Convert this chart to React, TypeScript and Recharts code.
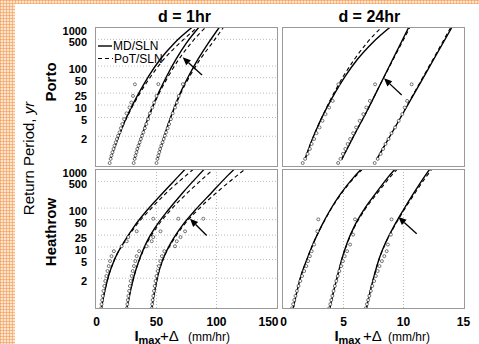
import { ComposedChart, Line, Scatter, XAxis, YAxis, CartesianGrid, ReferenceLine } from "recharts";

const FONT = '"Liberation Sans", Arial, Helvetica, sans-serif';

type Pt = [number, number];

// y axis: return period T on a Gumbel reduced-variate scale
const T_TICKS = [2, 5, 10, 20, 50, 100, 500, 1000];
const T_LABELS = ["2", "5", "10", "25", "50", "100", "500", "1000"];
const Y_DOMAIN: [number, number] = [-1.49, 6.96];

const X_TICKS_1H = [0, 50, 100, 150];
const X_GRID_1H = [50, 100];
const X_DOMAIN_1H: [number, number] = [-1.25, 151.25];
const X_TICKS_24H = [0, 5, 10, 15];
const X_GRID_24H = [5, 10];
const X_DOMAIN_24H: [number, number] = [-0.125, 15.125];

// [x (mm/hr), reduced variate]
const PORTO_1H_MD: Pt[][] = [
  [[11.3, -1.07], [16.7, 0], [22.0, 1], [28.3, 2], [35.5, 3], [43.5, 4], [53, 5], [65, 6], [80, 6.96]],
  [[31.3, -1.07], [36, 0], [40.6, 1], [45.8, 2], [51.8, 3], [58.6, 4], [66.2, 5], [75, 6], [85.5, 6.96]],
  [[50.4, -1.07], [55, 0], [59.3, 1], [64.3, 2], [70, 3], [76.8, 4], [84.5, 5], [93.3, 6], [102.5, 6.96]],
];
const PORTO_1H_POT: Pt[][] = [
  [[11.3, -1.07], [16.7, 0], [22.2, 1], [28.8, 2], [36.5, 3], [45.5, 4], [56, 5], [69.5, 6], [84.5, 6.96]],
  [[31.3, -1.07], [36, 0], [40.7, 1], [46.2, 2], [52.5, 3], [60, 4], [68.5, 5], [79, 6], [91, 6.96]],
  [[50.4, -1.07], [55, 0], [59.4, 1], [64.6, 2], [70.5, 3], [77.8, 4], [86.3, 5], [96.5, 6], [106, 6.96]],
];
const PORTO_1H_OBS: Pt[][] = [
  [[11, -1.25], [11.8, -1.0], [12.5, -0.8], [13.3, -0.6], [14.2, -0.4], [15, -0.2], [16, 0], [17, 0.2], [18, 0.4], [19.2, 0.6], [20.3, 0.85], [21.5, 1.1], [23, 1.4], [25, 1.75], [27.5, 2.1], [29, 2.4], [30.4, 2.8], [32, 3.5]],
  [[31, -1.25], [31.8, -1.0], [32.5, -0.8], [33.3, -0.6], [34, -0.4], [35, -0.2], [36, 0], [37, 0.2], [38, 0.4], [39, 0.6], [40.3, 0.85], [41.5, 1.1], [43, 1.4], [44.5, 1.75], [46.5, 2.1], [48, 2.4], [50, 2.8], [51.5, 3.51]],
  [[50, -1.25], [50.8, -1.0], [51.5, -0.8], [52.3, -0.6], [53, -0.4], [54, -0.2], [55, 0], [56, 0.2], [57, 0.4], [58, 0.6], [59.3, 0.85], [60.5, 1.1], [62, 1.4], [63.5, 1.75], [65.5, 2.1], [67, 2.4], [68.5, 2.8], [72, 3.51]],
];

const PORTO_24H_MD: Pt[][] = [
  [[1.79, -1.03], [2.3, 0], [2.88, 1], [3.55, 2], [4.3, 3], [5.15, 4], [6.15, 5], [7.4, 6], [8.9, 6.96]],
  [[4.85, -1.03], [5.9, 0.45], [7.0, 1.95], [8.1, 3.55], [9.2, 5.15], [10.45, 6.96]],
  [[7.77, -1.03], [9.37, 1], [10.94, 3], [12.51, 5], [14.05, 6.96]],
];
const PORTO_24H_POT: Pt[][] = [
  [[1.79, -1.03], [2.3, 0], [2.88, 1], [3.52, 2], [4.22, 3], [5.0, 4], [5.9, 5], [6.95, 6], [8.2, 6.96]],
  [[4.85, -1.03], [5.9, 0.45], [7.0, 1.95], [8.1, 3.55], [9.25, 5.15], [10.55, 6.96]],
  [[7.77, -1.03], [9.35, 1], [10.9, 3], [12.45, 5], [13.95, 6.96]],
];
const PORTO_24H_OBS: Pt[][] = [
  [[1.6, -1.25], [1.8, -1.0], [2.0, -0.7], [2.2, -0.4], [2.35, -0.1], [2.55, 0.2], [2.75, 0.55], [3.0, 0.9], [3.25, 1.3], [3.5, 1.7], [3.8, 2.1], [4.1, 2.5], [4.57, 3.5]],
  [[4.55, -1.25], [4.75, -1.0], [4.95, -0.7], [5.15, -0.4], [5.35, -0.1], [5.55, 0.2], [5.8, 0.55], [6.05, 0.9], [6.35, 1.3], [6.65, 1.7], [6.9, 2.1], [7.2, 2.5], [7.63, 3.5]],
  [[7.6, -1.25], [7.85, -1.0], [8.1, -0.7], [8.3, -0.4], [8.5, -0.1], [8.75, 0.2], [9.0, 0.55], [9.3, 0.9], [9.6, 1.3], [9.9, 1.7], [10.1, 2.1], [10.3, 2.5], [10.68, 3.5]],
];

const HEATHROW_1H_MD: Pt[][] = [
  [[4.0, -1.48], [6.6, -0.5], [10.0, 0.5], [15.0, 1.5], [22.5, 2.5], [31.5, 3.5], [42.5, 4.5], [55, 5.5], [68, 6.5], [74, 6.96]],
  [[25.2, -1.48], [28.0, -0.5], [31.3, 0.5], [35.7, 1.5], [41.5, 2.5], [49.6, 3.5], [60.0, 4.5], [71.5, 5.5], [84, 6.5], [90, 6.96]],
  [[46, -1.48], [48.3, -0.5], [51, 0.5], [55.3, 1.5], [62, 2.5], [71, 3.5], [82.5, 4.5], [95.5, 5.5], [108.5, 6.5], [115, 6.96]],
];
const HEATHROW_1H_POT: Pt[][] = [
  [[4.0, -1.48], [6.6, -0.5], [10.0, 0.5], [15.1, 1.5], [22.8, 2.5], [32.5, 3.5], [44.5, 4.5], [58, 5.5], [73.5, 6.5], [81, 6.96]],
  [[25.2, -1.48], [28.0, -0.5], [31.3, 0.5], [35.9, 1.5], [42.2, 2.5], [50.8, 3.5], [62, 4.5], [75.5, 5.5], [90.5, 6.5], [97.5, 6.96]],
  [[46, -1.48], [48.3, -0.5], [51, 0.5], [55.5, 1.5], [62.6, 2.5], [72, 3.5], [84.5, 4.5], [99.5, 5.5], [116, 6.5], [124, 6.96]],
];
const HEATHROW_1H_OBS: Pt[][] = [
  [[3.8, -1.45], [4.2, -1.2], [4.7, -0.95], [5.2, -0.7], [5.8, -0.4], [6.5, -0.1], [7.3, 0.2], [8.2, 0.5], [9.2, 0.8], [10.2, 1.1], [11.3, 1.4], [12.5, 1.7], [14.5, 2.0], [21, 2.3], [25.2, 2.6], [26.5, 2.85], [33.5, 3.2], [47.3, 3.96]],
  [[25.3, -1.45], [25.7, -1.2], [26.1, -0.95], [26.6, -0.7], [27.2, -0.4], [27.8, -0.1], [28.5, 0.2], [29.3, 0.5], [30.2, 0.8], [31.2, 1.1], [32.3, 1.4], [33.5, 1.7], [35.5, 2.0], [41.8, 2.3], [46, 2.6], [47.3, 2.85], [53.3, 3.2], [68.2, 3.96]],
  [[46, -1.45], [46.4, -1.2], [46.8, -0.95], [47.3, -0.7], [47.9, -0.4], [48.5, -0.1], [49.2, 0.2], [50, 0.5], [51, 0.8], [52, 1.1], [53.2, 1.4], [54.5, 1.7], [56.5, 2.0], [65.4, 2.3], [66.9, 2.6], [70, 2.85], [73.8, 3.2], [89, 3.96]],
];

const HEATHROW_24H_MD: Pt[][] = [
  [[0.8, -1.48], [1.1, -0.5], [1.45, 0.5], [1.95, 1.5], [2.5, 2.5], [3.15, 3.5], [3.9, 4.5], [4.8, 5.5], [5.9, 6.5], [6.5, 6.96]],
  [[3.85, -1.48], [4.15, -0.5], [4.5, 0.5], [4.85, 1.5], [5.3, 2.5], [5.9, 3.5], [6.7, 4.5], [7.7, 5.5], [8.75, 6.5], [9.3, 6.96]],
  [[6.9, -1.48], [7.2, -0.5], [7.55, 0.5], [7.95, 1.5], [8.5, 2.5], [9.2, 3.5], [10.0, 4.5], [10.85, 5.5], [11.75, 6.5], [12.2, 6.96]],
];
const HEATHROW_24H_POT: Pt[][] = [
  [[0.8, -1.48], [1.1, -0.5], [1.45, 0.5], [1.95, 1.5], [2.5, 2.5], [3.17, 3.5], [3.93, 4.5], [4.85, 5.5], [5.98, 6.5], [6.6, 6.96]],
  [[3.85, -1.48], [4.15, -0.5], [4.5, 0.5], [4.86, 1.5], [5.33, 2.5], [5.95, 3.5], [6.78, 4.5], [7.82, 5.5], [8.92, 6.5], [9.5, 6.96]],
  [[6.9, -1.48], [7.2, -0.5], [7.55, 0.5], [7.96, 1.5], [8.52, 2.5], [9.24, 3.5], [10.06, 4.5], [10.95, 5.5], [11.9, 6.5], [12.38, 6.96]],
];
const HEATHROW_24H_OBS: Pt[][] = [
  [[0.7, -1.45], [0.8, -1.2], [0.9, -0.95], [1.0, -0.7], [1.12, -0.4], [1.25, -0.1], [1.4, 0.2], [1.55, 0.5], [1.72, 0.8], [1.9, 1.1], [2.05, 1.4], [2.2, 1.7], [2.35, 2.0], [2.55, 2.4], [2.82, 3.2], [2.9, 3.92]],
  [[3.8, -1.45], [3.9, -1.2], [3.98, -0.95], [4.07, -0.7], [4.17, -0.4], [4.28, -0.1], [4.4, 0.2], [4.52, 0.5], [4.65, 0.8], [4.8, 1.1], [4.95, 1.4], [5.1, 1.7], [5.3, 2.0], [5.55, 2.4], [5.8, 3.0], [5.96, 3.92]],
  [[6.85, -1.45], [6.95, -1.2], [7.05, -0.95], [7.15, -0.7], [7.28, -0.4], [7.4, -0.1], [7.55, 0.2], [7.7, 0.5], [7.85, 0.8], [8.0, 1.1], [8.2, 1.4], [8.4, 1.7], [8.6, 2.0], [8.7, 2.4], [8.95, 3.0], [9.0, 3.92]],
];

// arrows: [tail, tip]
const ARROW_PORTO_1H: Pt[] = [[87.9, 4.06], [71.8, 5.13]];
const ARROW_PORTO_24H: Pt[] = [[9.85, 2.85], [8.375, 3.86]];
const ARROW_HEATHROW_1H: Pt[] = [[91.8, 2.95], [77.9, 3.95]];
const ARROW_HEATHROW_24H: Pt[] = [[11.1, 3.05], [9.57, 4.06]];

const gumbel = (T: number) => -Math.log(-Math.log(1 - 1 / T));
const rows = (pts: Pt[]) => pts.map(([x, y]) => ({ x, y }));

const Y_TICK_VALUES = T_TICKS.map(gumbel);

function yLabel(v: number) {
  const i = Y_TICK_VALUES.findIndex((t) => Math.abs(t - v) < 1e-6);
  return i >= 0 ? T_LABELS[i] : "";
}

function YTick(props: any) {
  const { x, y, payload } = props;
  return (
    <text x={x} y={y + 3} dy="0.355em" textAnchor="end" fontFamily={FONT} fontSize={11} fontWeight="bold" fill="#000">
      {yLabel(payload.value)}
    </text>
  );
}

function XTick(props: any) {
  const { x, y, payload } = props;
  // squeeze the neighbouring "150" and "0" apart like the original
  let anchor: "middle" | "end" | "start" = "middle";
  let dx = 0;
  if (payload.value === 150) { anchor = "end"; dx = 2; }
  if (payload.value === 0 && x > 200) { dx = 3; }
  return (
    <text x={x + dx} y={y} dy="0.71em" textAnchor={anchor} fontFamily={FONT} fontSize={12} fontWeight="bold" fill="#000">
      {payload.value}
    </text>
  );
}

function Arrow(props: any) {
  const { x1, y1, x2, y2 } = props;
  const ang = Math.atan2(y2 - y1, x2 - x1);
  const len = 8;
  const w = 3.5;
  const bx = x2 - len * Math.cos(ang);
  const by = y2 - len * Math.sin(ang);
  const px = -Math.sin(ang) * w;
  const py = Math.cos(ang) * w;
  return (
    <g>
      <line x1={x1} y1={y1} x2={bx} y2={by} stroke="#000" strokeWidth={1.3} />
      <polygon points={`${x2},${y2} ${bx + px},${by + py} ${bx - px},${by - py}`} fill="#000" />
    </g>
  );
}

const Dot = (p: any) => <circle cx={p.cx} cy={p.cy} r={1.5} fill="#fff" stroke="#222" strokeWidth={0.6} />;

type PanelProps = {
  left: number;
  top: number;
  leftCol: boolean;
  bottomRow: boolean;
  md: Pt[][];
  pot: Pt[][];
  obs: Pt[][];
  arrow: Pt[];
  hourly: boolean;
};

const PAD_TOP = 8;

function Panel({ left, top, leftCol, bottomRow, md, pot, obs, arrow, hourly }: PanelProps) {
  const yW = leftCol ? 40 : 10;
  const right = leftCol ? 12 : 8;
  const xH = bottomRow ? 20 : 0;
  return (
    <div style={{ position: "absolute", left, top: top - PAD_TOP }}>
      <ComposedChart width={yW + 183 + right} height={PAD_TOP + 140 + xH} margin={{ top: PAD_TOP, right, bottom: 0, left: 0 }}>
        <CartesianGrid
          stroke="#bbb"
          strokeDasharray="1 2"
          horizontalValues={Y_TICK_VALUES.slice(0, -1)}
          verticalValues={hourly ? X_GRID_1H : X_GRID_24H}
        />
        <XAxis
          dataKey="x"
          type="number"
          domain={hourly ? X_DOMAIN_1H : X_DOMAIN_24H}
          ticks={hourly ? X_TICKS_1H : X_TICKS_24H}
          interval={0}
          allowDataOverflow
          height={xH}
          axisLine={false}
          tickLine={false}
          tick={bottomRow ? <XTick /> : false}
        />
        <YAxis
          dataKey="y"
          type="number"
          domain={Y_DOMAIN}
          ticks={Y_TICK_VALUES}
          interval={0}
          allowDataOverflow
          width={yW}
          axisLine={false}
          tickLine={false}
          tick={leftCol ? <YTick /> : false}
        />
        {obs.map((s, i) => (
          <Scatter key={`o${i}`} data={rows(s)} dataKey="y" shape={Dot} isAnimationActive={false} />
        ))}
        {pot.map((s, i) => (
          <Line key={`p${i}`} data={rows(s)} dataKey="y" type="monotone" stroke="#000" strokeWidth={1.1}
            strokeDasharray="4 3" dot={false} isAnimationActive={false} />
        ))}
        {md.map((s, i) => (
          <Line key={`m${i}`} data={rows(s)} dataKey="y" type="monotone" stroke="#000" strokeWidth={1.4}
            dot={false} isAnimationActive={false} />
        ))}
        <ReferenceLine
          segment={[{ x: arrow[0][0], y: arrow[0][1] }, { x: arrow[1][0], y: arrow[1][1] }]}
          shape={Arrow}
          ifOverflow="visible"
        />
      </ComposedChart>
      <div style={{
        position: "absolute", left: yW, top: PAD_TOP, width: 183, height: 140,
        border: "1px solid #999", boxSizing: "border-box", pointerEvents: "none",
      }} />
    </div>
  );
}

export default function App() {
  const bg = {
    position: "absolute" as const, left: 0, top: 0, width: 479, height: 344, overflow: "hidden",
    backgroundColor: "#fde4cc",
    backgroundImage:
      "linear-gradient(90deg, rgba(241,150,80,0.55) 1px, transparent 1px), linear-gradient(rgba(241,150,80,0.55) 1px, transparent 1px)",
    backgroundSize: "3px 3px",
  };
  return (
    <div style={bg}>
      <div style={{ position: "absolute", left: 15, top: 4, right: 0, bottom: 0, background: "#fff" }} />
      <Panel left={55} top={27} leftCol bottomRow={false} hourly md={PORTO_1H_MD} pot={PORTO_1H_POT} obs={PORTO_1H_OBS} arrow={ARROW_PORTO_1H} />
      <Panel left={272} top={27} leftCol={false} bottomRow={false} hourly={false} md={PORTO_24H_MD} pot={PORTO_24H_POT} obs={PORTO_24H_OBS} arrow={ARROW_PORTO_24H} />
      <Panel left={55} top={169} leftCol bottomRow hourly md={HEATHROW_1H_MD} pot={HEATHROW_1H_POT} obs={HEATHROW_1H_OBS} arrow={ARROW_HEATHROW_1H} />
      <Panel left={272} top={169} leftCol={false} bottomRow hourly={false} md={HEATHROW_24H_MD} pot={HEATHROW_24H_POT} obs={HEATHROW_24H_OBS} arrow={ARROW_HEATHROW_24H} />
      <svg width={479} height={344} style={{ position: "absolute", left: 0, top: 0, pointerEvents: "none" }} fontFamily={FONT}>
        <text x={184.5} y={22} textAnchor="middle" fontSize={16} fontWeight="bold">d = 1hr</text>
        <text x={369.3} y={22} textAnchor="middle" fontSize={16} fontWeight="bold">d = 24hr</text>
        <text transform="translate(55.5,82) rotate(-90)" textAnchor="middle" fontSize={15} fontWeight="bold">Porto</text>
        <text transform="translate(55.5,232) rotate(-90)" textAnchor="middle" fontSize={15} fontWeight="bold">Heathrow</text>
        <text transform="translate(33.5,158.5) rotate(-90)" textAnchor="middle" fontSize={15}>
          Return Period, <tspan fontStyle="italic">yr</tspan>
        </text>
        {/* legend */}
        <line x1={98} y1={46} x2={112} y2={46} stroke="#000" strokeWidth={1.4} />
        <text x={113} y={50} fontSize={12}>MD/SLN</text>
        <line x1={98} y1={58.5} x2={113} y2={58.5} stroke="#000" strokeWidth={1.1} strokeDasharray="4 3" />
        <text x={114} y={62.5} fontSize={12}>PoT/SLN</text>
        {/* x labels */}
        <text y={341} fontSize={15}>
          <tspan x={134.5} fontWeight="bold">I</tspan>
          <tspan x={138.5} y={343.5} fontSize={11} fontWeight="bold">max</tspan>
          <tspan x={160} y={341}>+Δ</tspan>
          <tspan x={188} fontSize={12}>(mm/hr)</tspan>
        </text>
        <text y={341} fontSize={15}>
          <tspan x={334.5} fontWeight="bold">I</tspan>
          <tspan x={338.5} y={343.5} fontSize={11} fontWeight="bold">max</tspan>
          <tspan x={363} y={341}>+Δ</tspan>
          <tspan x={388} fontSize={12}>(mm/hr)</tspan>
        </text>
      </svg>
    </div>
  );
}
